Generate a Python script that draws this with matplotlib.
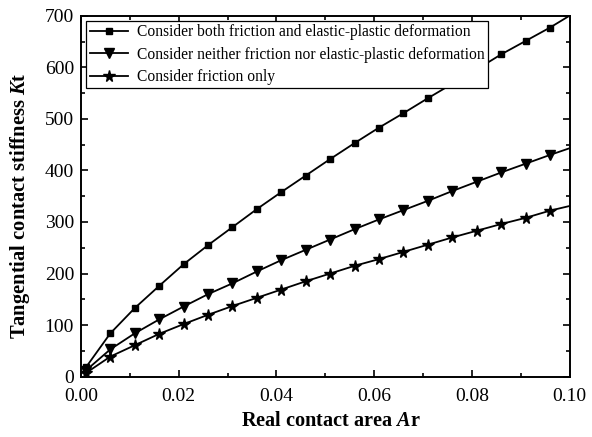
import matplotlib
matplotlib.use("Agg")
import matplotlib.pyplot as plt
from matplotlib.ticker import MultipleLocator, FormatStrFormatter

plt.rcParams['font.family'] = ['Liberation Serif', 'DejaVu Serif']
plt.rcParams['mathtext.fontset'] = 'custom'
plt.rcParams['mathtext.rm'] = 'Liberation Serif'
plt.rcParams['mathtext.it'] = 'Liberation Serif:italic'
plt.rcParams['mathtext.bf'] = 'Liberation Serif:bold'
plt.rcParams['mathtext.bfit'] = 'Liberation Serif:bold:italic'

# Data
area = [0.001, 0.006, 0.011, 0.016, 0.021, 0.026, 0.031, 0.036, 0.041, 0.046,
        0.051, 0.056, 0.061, 0.066, 0.071, 0.076, 0.081, 0.086, 0.091, 0.096, 0.100]
kt_both = [18, 84, 133, 176, 218, 255, 290, 325, 358, 390,
           422, 453, 483, 511, 540, 568, 596, 625, 651, 677, 700]
kt_neither = [12, 53, 84, 111, 136, 160, 181, 204, 226, 246,
              266, 286, 305, 323, 341, 360, 378, 396, 413, 430, 443]
kt_friction = [7, 39, 61, 83, 102, 120, 137, 153, 169, 185,
               200, 215, 228, 242, 256, 270, 283, 296, 308, 322, 331]

labels = ["Consider both friction and elastic-plastic deformation",
          "Consider neither friction nor elastic-plastic deformation",
          "Consider friction only"]

fig = plt.figure(figsize=(5.92, 4.37), dpi=100)
ax = fig.add_axes([0.1368, 0.138, 0.8252, 0.826])

mk = slice(0, len(area) - 1)
ax.plot(area, kt_both, color='black', lw=1.3, marker='s', ms=5, markevery=mk, label=labels[0])
ax.plot(area, kt_neither, color='black', lw=1.3, marker='v', ms=7.5, markevery=mk, label=labels[1])
ax.plot(area, kt_friction, color='black', lw=1.3, marker='*', ms=8.5, markevery=mk, label=labels[2])

ax.set_xlim(0, 0.10)
ax.set_ylim(0, 700)
ax.xaxis.set_major_locator(MultipleLocator(0.02))
ax.xaxis.set_minor_locator(MultipleLocator(0.01))
ax.yaxis.set_major_locator(MultipleLocator(100))
ax.yaxis.set_minor_locator(MultipleLocator(50))
ax.xaxis.set_major_formatter(FormatStrFormatter('%.2f'))
ax.tick_params(which='both', direction='in', top=True, right=True, width=1.2, labelsize=14)
ax.tick_params(which='major', length=5)
ax.tick_params(which='minor', length=3)
ax.tick_params(axis='x', which='major', pad=8)
ax.tick_params(axis='y', which='major', pad=5)
for s in ax.spines.values():
    s.set_linewidth(1.4)

ax.set_xlabel(r'Real contact area $\mathbfit{A}$r', fontsize=14.6, fontweight='bold')
ax.set_ylabel(r'Tangential contact stiffness $\mathbfit{K}$t', fontsize=14.8, fontweight='bold')
ax.xaxis.set_label_coords(0.512, -0.095)
ax.yaxis.set_label_coords(-0.100, 0.474)

leg = ax.legend(loc='upper left', bbox_to_anchor=(0.0, 1.0), fontsize=11.2, frameon=True,
                fancybox=False, edgecolor='black', framealpha=1, handlelength=2.5,
                handletextpad=0.58, borderpad=0.2, labelspacing=0.42, borderaxespad=0.35)
leg.get_frame().set_linewidth(0.9)

fig.savefig('out.png', dpi=100)
